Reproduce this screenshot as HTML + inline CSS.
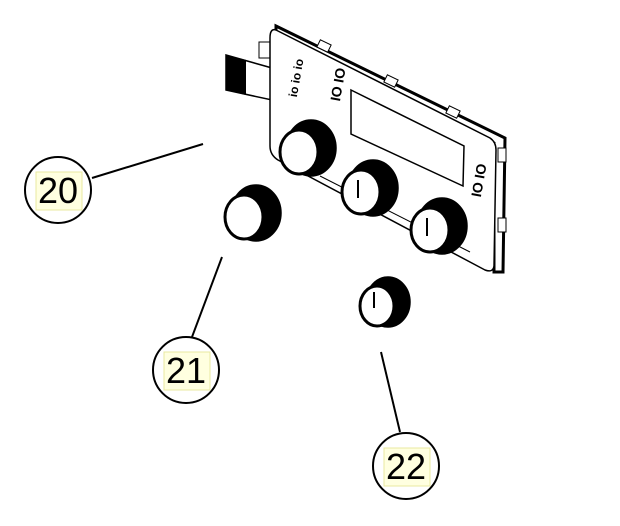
<!DOCTYPE html>
<html><head><style>
html,body{margin:0;padding:0;background:#fff;}
svg{display:block}
text{font-family:"Liberation Sans",sans-serif;}
</style></head><body>
<svg width="620" height="526" viewBox="0 0 620 526" xmlns="http://www.w3.org/2000/svg">
<polygon points="226,55 272,68 272,100 226,90" fill="#fff" stroke="#000" stroke-width="1.5"/>
<polygon points="226,55 246,60 246,95 226,90" fill="#000"/>
<rect x="259" y="42" width="12" height="16" fill="#fff" stroke="#000"/>
<polygon points="276,26 505,138 503,272 494,272 494,143 276,32" fill="#fff" stroke="#000" stroke-width="3"/>
<rect x="498" y="148" width="8" height="14" fill="#fff" stroke="#000"/>
<rect x="498" y="218" width="8" height="14" fill="#fff" stroke="#000"/>
<rect x="318" y="42" width="12" height="8" fill="#fff" stroke="#000" transform="rotate(26 324 46)"/>
<rect x="385" y="77" width="12" height="8" fill="#fff" stroke="#000" transform="rotate(26 391 81)"/>
<rect x="447" y="108" width="12" height="8" fill="#fff" stroke="#000" transform="rotate(26 453 112)"/>
<path d="M276,30 L490,138 Q496,142 496,150 L494,266 Q493,273 485,270 L278,160 Q270,155 270,146 L270,38 Q270,28 276,30 Z" fill="#fff" stroke="#000" stroke-width="1.5"/>
<polygon points="351,90 464,146 463,186 351,134" fill="#fff" stroke="#000" stroke-width="1.5"/>
<line x1="320" y1="176" x2="470" y2="252" stroke="#000" stroke-width="1"/>
<text x="282" y="100" font-size="12" font-weight="bold" transform="rotate(-80 288 90)">io io io</text>
<text x="330" y="100" font-size="14" font-weight="bold" transform="rotate(-80 336 95)">IO IO</text>
<text x="466" y="200" font-size="14" font-weight="bold" transform="rotate(-80 472 190)">IO IO</text>
<g stroke="#000" stroke-width="1.5">
<ellipse cx="311" cy="148" rx="25" ry="28" fill="#000"/>
<ellipse cx="299" cy="152" rx="19" ry="22" fill="#fff" stroke-width="3"/>
<ellipse cx="373" cy="188" rx="25" ry="28" fill="#000"/>
<ellipse cx="361" cy="192" rx="19" ry="22" fill="#fff" stroke-width="3"/>
<ellipse cx="442" cy="226" rx="25" ry="28" fill="#000"/>
<ellipse cx="430" cy="230" rx="19" ry="22" fill="#fff" stroke-width="3"/>
<ellipse cx="256" cy="213" rx="25" ry="28" fill="#000"/>
<ellipse cx="244" cy="217" rx="19" ry="22" fill="#fff" stroke-width="3"/>
<ellipse cx="388" cy="302" rx="22" ry="25" fill="#000"/>
<ellipse cx="377" cy="306" rx="17" ry="20" fill="#fff" stroke-width="3"/>
</g>
<line x1="358" y1="180" x2="358" y2="198" stroke="#000" stroke-width="2"/>
<line x1="427" y1="218" x2="427" y2="236" stroke="#000" stroke-width="2"/>
<line x1="374" y1="292" x2="374" y2="308" stroke="#000" stroke-width="2"/>
<g stroke="#000" stroke-width="2">
<line x1="92" y1="178" x2="203" y2="144"/>
<line x1="192" y1="337" x2="222" y2="257"/>
<line x1="400" y1="432" x2="381" y2="352"/>
</g>
<g stroke="#000" stroke-width="2" fill="#fff">
<circle cx="58" cy="190" r="33"/>
<circle cx="186" cy="370" r="33"/>
<circle cx="406" cy="466" r="33"/>
</g>
<g fill="#ffffe0" stroke="#e8e8a0" stroke-width="1">
<rect x="36" y="172" width="46" height="38"/>
<rect x="164" y="352" width="46" height="38"/>
<rect x="384" y="448" width="46" height="38"/>
</g>
<g font-size="36" text-anchor="middle" fill="#000">
<text x="58" y="203">20</text>
<text x="186" y="383">21</text>
<text x="406" y="479">22</text>
</g>
</svg>
</body></html>
